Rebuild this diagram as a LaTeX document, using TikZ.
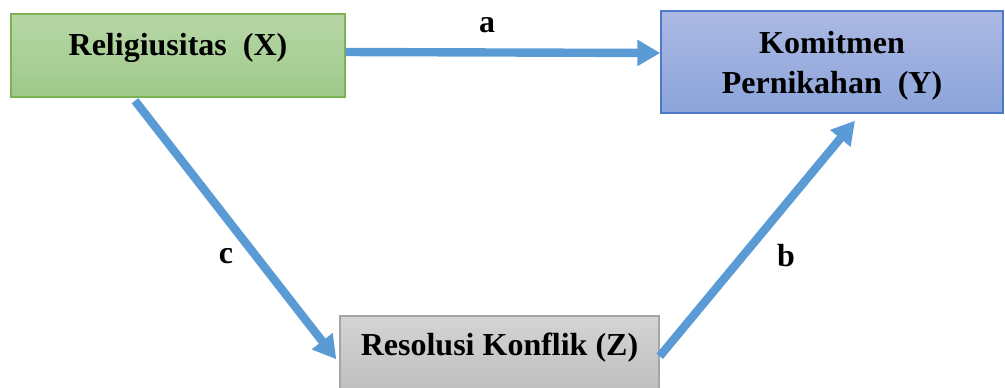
\documentclass[tikz,border=0pt]{standalone}
\usepackage{fontspec}
\setmainfont{Liberation Serif}
\usetikzlibrary{arrows.meta}

\definecolor{linkblue}{RGB}{91,155,213}
\definecolor{xtop}{RGB}{183,215,166}
\definecolor{xbot}{RGB}{158,200,138}
\definecolor{xline}{RGB}{122,178,84}
\definecolor{ytop}{RGB}{171,185,227}
\definecolor{ybot}{RGB}{140,164,218}
\definecolor{yline}{RGB}{80,120,200}
\definecolor{ztop}{RGB}{212,212,212}
\definecolor{zbot}{RGB}{188,188,188}
\definecolor{zline}{RGB}{165,165,165}

\tikzset{
  varbox/.style={draw, line width=0.7pt, inner xsep=0pt, inner ysep=0pt,
    align=center, font=\fontsize{16}{20}\selectfont\bfseries},
  link/.style={draw=linkblue, line width=4.2pt, -{Triangle[length=11.5pt,width=12.5pt]}},
  lbl/.style={font=\fontsize{16}{20}\selectfont\bfseries}
}

\begin{document}
\begin{tikzpicture}[x=0.5pt,y=-0.5pt]
  \useasboundingbox (0,0) rectangle (1005,387);

  % variables
  \node[varbox, draw=xline, top color=xtop, bottom color=xbot,
        minimum width=167pt, text height=20.5pt, text depth=21pt]
        (X) at (178,55.5) {Religiusitas\ \ (X)};
  \node[varbox, draw=yline, top color=ytop, bottom color=ybot,
        minimum width=171pt, text height=41pt, text depth=10pt]
        (Y) at (832,62) {Komitmen\\Pernikahan\ \ (Y)};
  \node[varbox, draw=zline, top color=ztop, bottom color=zbot,
        minimum width=159.5pt, text height=19.5pt, text depth=22.5pt]
        (Z) at (499.5,358) {Resolusi Konflik (Z)};

  % paths
  \draw[link] ([yshift=1.75pt]X.east) -- ([yshift=4.5pt]Y.west);
  \draw[link] ([xshift=-21.5pt,yshift=-1.5pt]X.south) -- ([xshift=-1.5pt,yshift=-22pt]Z.north west);
  \draw[link] ([yshift=-20.5pt]Z.north east) -- ([xshift=11.5pt,yshift=-3.5pt]Y.south);

  \node[lbl] (la) at (487,25) {a};
  \node[lbl] (lb) at (786,256) {b};
  \node[lbl] (lc) at (226,256) {c};
\end{tikzpicture}
\end{document}
